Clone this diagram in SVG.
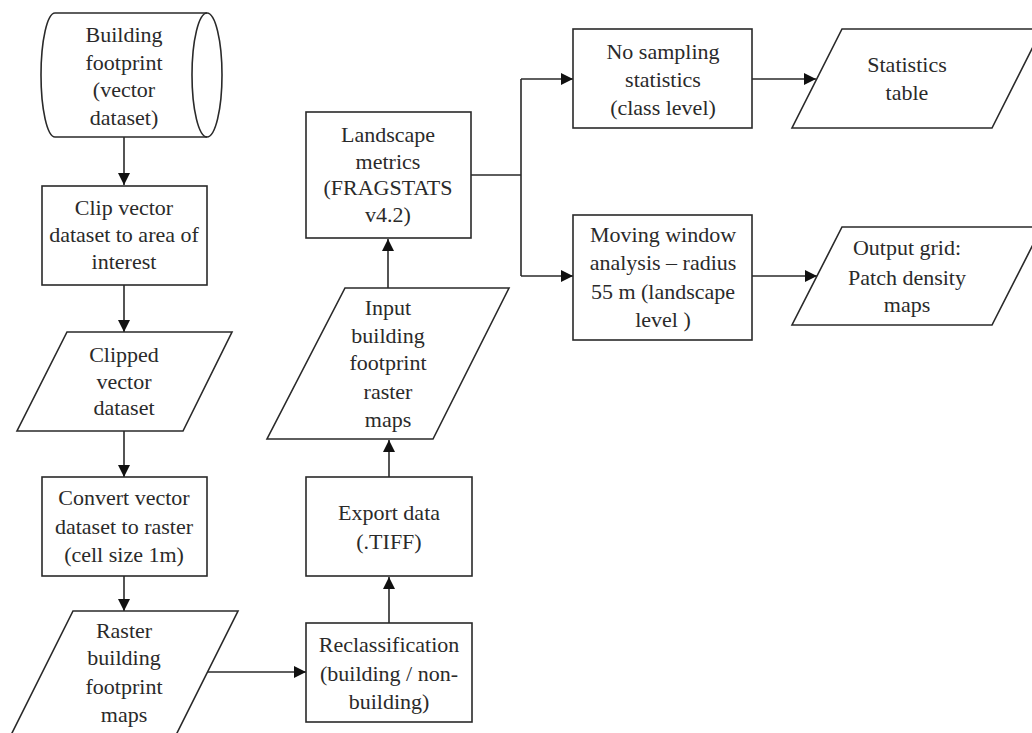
<svg xmlns="http://www.w3.org/2000/svg" width="1032" height="733" viewBox="0 0 1032 733">
<defs>
<style>
.s{fill:#fff;stroke:#2a2a2a;stroke-width:1.6}
.c{fill:none;stroke:#2a2a2a;stroke-width:1.6}
text{font-family:"Liberation Serif","Times New Roman",serif;font-size:22px;fill:#2a2a2a;text-anchor:middle}
</style>
<marker id="ah" viewBox="0 0 10 10" refX="10" refY="5" markerWidth="12" markerHeight="12" markerUnits="userSpaceOnUse" orient="auto">
<path d="M0,0 L10,5 L0,10 z" fill="#111"/>
</marker>
</defs>
<rect width="1032" height="733" fill="#fff"/>
<g id="connectors">
<path class="c" d="M124,137 V185" marker-end="url(#ah)"/>
<path class="c" d="M124,285 V332" marker-end="url(#ah)"/>
<path class="c" d="M124,431 V477" marker-end="url(#ah)"/>
<path class="c" d="M124,576 V611" marker-end="url(#ah)"/>
<path class="c" d="M208,672 H306" marker-end="url(#ah)"/>
<path class="c" d="M389,623 V577" marker-end="url(#ah)"/>
<path class="c" d="M389,477 V440" marker-end="url(#ah)"/>
<path class="c" d="M388,288 V239" marker-end="url(#ah)"/>
<path class="c" d="M471,175 H521 M521,79 V276"/>
<path class="c" d="M521,79 H573" marker-end="url(#ah)"/>
<path class="c" d="M521,276 H573" marker-end="url(#ah)"/>
<path class="c" d="M752,79 H816" marker-end="url(#ah)"/>
<path class="c" d="M752,276 H817" marker-end="url(#ah)"/>
</g>
<g id="n-building-footprint">
<path class="s" d="M207,13 L55,13 A14,62 0 0 0 55,137 L207,137 A15,62 0 0 0 207,13 Z"/>
<path class="c" d="M207,13 A15,62 0 0 0 207,137"/>
<text x="124" y="42">Building</text>
<text x="124" y="70">footprint</text>
<text x="124" y="97">(vector</text>
<text x="124" y="125">dataset)</text>
</g>
<g id="n-clip">
<rect class="s" x="42" y="186" width="165" height="99"/>
<text x="124" y="215">Clip vector</text>
<text x="124" y="242">dataset to area of</text>
<text x="124" y="269">interest</text>
</g>
<g id="n-clipped">
<polygon class="s" points="67,332 232,332 183,431 17,431"/>
<text x="124" y="362">Clipped</text>
<text x="124" y="389">vector</text>
<text x="124" y="415">dataset</text>
</g>
<g id="n-convert">
<rect class="s" x="42" y="477" width="165" height="99"/>
<text x="124" y="505">Convert vector</text>
<text x="124" y="534">dataset to raster</text>
<text x="124" y="562">(cell size 1m)</text>
</g>
<g id="n-raster">
<polygon class="s" points="73,611 238,611 171,745 6,745"/>
<text x="124" y="638">Raster</text>
<text x="124" y="665">building</text>
<text x="124" y="694">footprint</text>
<text x="124" y="722">maps</text>
</g>
<g id="n-reclass">
<rect class="s" x="306" y="623" width="166" height="99"/>
<text x="389" y="652">Reclassification</text>
<text x="389" y="681">(building / non-</text>
<text x="389" y="709">building)</text>
</g>
<g id="n-export">
<rect class="s" x="306" y="477" width="166" height="99"/>
<text x="389" y="520">Export data</text>
<text x="389" y="549">(.TIFF)</text>
</g>
<g id="n-input">
<polygon class="s" points="345,288 509,288 433,439 267,439"/>
<text x="388" y="315">Input</text>
<text x="388" y="343">building</text>
<text x="388" y="370">footprint</text>
<text x="388" y="399">raster</text>
<text x="388" y="427">maps</text>
</g>
<g id="n-landscape">
<rect class="s" x="306" y="112" width="165" height="126"/>
<text x="388" y="142">Landscape</text>
<text x="388" y="169">metrics</text>
<text x="388" y="195">(FRAGSTATS</text>
<text x="388" y="222">v4.2)</text>
</g>
<g id="n-nosampling">
<rect class="s" x="573" y="29" width="179" height="99"/>
<text x="663" y="59">No sampling</text>
<text x="663" y="87">statistics</text>
<text x="663" y="115">(class level)</text>
</g>
<g id="n-stats-table">
<polygon class="s" points="842,29 1042,29 992,128 792,128"/>
<text x="907" y="72">Statistics</text>
<text x="907" y="100">table</text>
</g>
<g id="n-moving">
<rect class="s" x="573" y="215" width="179" height="125"/>
<text x="663" y="242">Moving window</text>
<text x="663" y="270">analysis – radius</text>
<text x="663" y="299">55 m (landscape</text>
<text x="663" y="327">level )</text>
</g>
<g id="n-output">
<polygon class="s" points="842,227 1042,227 992,325 792,325"/>
<text x="907" y="255">Output grid:</text>
<text x="907" y="285">Patch density</text>
<text x="907" y="312">maps</text>
</g>
</svg>
